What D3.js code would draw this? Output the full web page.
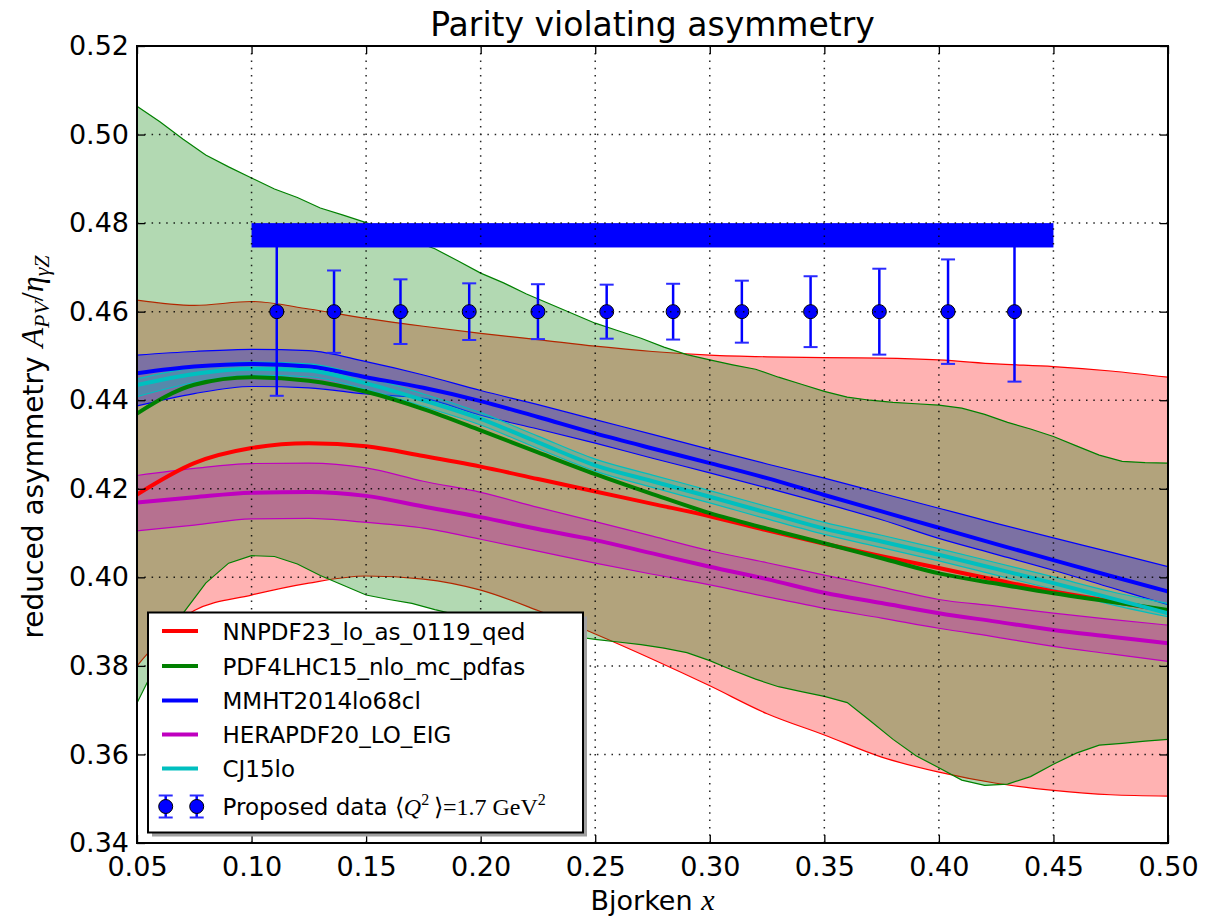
<!DOCTYPE html>
<html>
<head>
<meta charset="utf-8">
<script src="https://cdn.jsdelivr.net/npm/d3@7"></script>
<style>
  body { margin: 0; background: #fff; }
  svg { display: block; }
  text { font-family: "DejaVu Sans", sans-serif; fill: #000; }
</style>
</head>
<body>
<svg id="chart" width="1228" height="917"></svg>
<script>
// ---- PDF predictions on a common x grid ----
const xGrid = [0.05, 0.075, 0.10, 0.125, 0.15, 0.175, 0.20, 0.225, 0.25, 0.275,
               0.30, 0.325, 0.35, 0.375, 0.40, 0.425, 0.45, 0.475, 0.50];

const nnpdfMid = [0.4187, 0.4258, 0.4292, 0.4303, 0.4296, 0.4274, 0.4250, 0.4222, 0.4194, 0.4166,
                  0.4138, 0.4106, 0.4076, 0.4048, 0.4021, 0.3994, 0.3968, 0.3946, 0.3924];
const nnpdfHi  = [0.4626, 0.4614, 0.4623, 0.4606, 0.4585, 0.4567, 0.4551, 0.4537, 0.4522, 0.4510,
                  0.4502, 0.4498, 0.4496, 0.4495, 0.4491, 0.4482, 0.4476, 0.4466, 0.4452];
const nnpdfLo  = [0.3800, 0.3925, 0.3960, 0.3987, 0.4003, 0.3996, 0.3971, 0.3925, 0.3872, 0.3815,
                  0.3755, 0.3692, 0.3644, 0.3594, 0.3560, 0.3535, 0.3519, 0.3509, 0.3506];

const pdf4lhcMid = [0.4370, 0.4435, 0.4452, 0.4444, 0.4419, 0.4380, 0.4332, 0.4282, 0.4233, 0.4188,
                    0.4145, 0.4110, 0.4077, 0.4043, 0.4009, 0.3986, 0.3964, 0.3945, 0.3926];

const mmhtMid = [0.4461, 0.4476, 0.4482, 0.4476, 0.4452, 0.4428, 0.4398, 0.4362, 0.4325, 0.4291,
                 0.4258, 0.4224, 0.4186, 0.4149, 0.4112, 0.4075, 0.4039, 0.4003, 0.3968];
const mmhtHi  = [0.4502, 0.4510, 0.4515, 0.4512, 0.4487, 0.4457, 0.4422, 0.4390, 0.4356, 0.4323,
                 0.4289, 0.4256, 0.4224, 0.4190, 0.4156, 0.4122, 0.4089, 0.4057, 0.4024];
const mmhtLo  = [0.4387, 0.4415, 0.4431, 0.4428, 0.4414, 0.4404, 0.4366, 0.4335, 0.4303, 0.4269,
                 0.4236, 0.4202, 0.4167, 0.4130, 0.4088, 0.4052, 0.4016, 0.3977, 0.3938];

const heraMid = [0.4169, 0.4181, 0.4191, 0.4193, 0.4184, 0.4160, 0.4136, 0.4109, 0.4084, 0.4054,
                 0.4024, 0.3996, 0.3965, 0.3942, 0.3919, 0.3900, 0.3881, 0.3866, 0.3851];
const heraHi  = [0.4230, 0.4246, 0.4257, 0.4258, 0.4247, 0.4217, 0.4192, 0.4158, 0.4126, 0.4093,
                 0.4060, 0.4033, 0.4005, 0.3978, 0.3950, 0.3935, 0.3919, 0.3905, 0.3892];
const heraLo  = [0.4105, 0.4118, 0.4132, 0.4133, 0.4124, 0.4111, 0.4086, 0.4059, 0.4032, 0.4007,
                 0.3983, 0.3956, 0.3930, 0.3908, 0.3885, 0.3865, 0.3844, 0.3827, 0.3810];

const cj15Mid = [0.4434, 0.4459, 0.4471, 0.4467, 0.4438, 0.4400, 0.4358, 0.4305, 0.4253, 0.4217,
                 0.4182, 0.4146, 0.4110, 0.4081, 0.4051, 0.4019, 0.3987, 0.3953, 0.3919];
const cj15Hi  = [0.4448, 0.4474, 0.4486, 0.4482, 0.4453, 0.4414, 0.4372, 0.4319, 0.4267, 0.4231,
                 0.4196, 0.4160, 0.4124, 0.4095, 0.4065, 0.4033, 0.4001, 0.3968, 0.3941];
const cj15Lo  = [0.4408, 0.4440, 0.4456, 0.4453, 0.4424, 0.4386, 0.4344, 0.4291, 0.4240, 0.4203,
                 0.4168, 0.4132, 0.4097, 0.4067, 0.4037, 0.4005, 0.3973, 0.3939, 0.3911];

// PDF4LHC15 uncertainty band, tabulated in steps of 0.01
const pdf4lhcBandX = [0.05, 0.06, 0.07, 0.08, 0.09, 0.10, 0.11, 0.12, 0.13, 0.14,
                      0.15, 0.16, 0.17, 0.18, 0.19, 0.20, 0.21, 0.22, 0.23, 0.24,
                      0.25, 0.26, 0.27, 0.28, 0.29, 0.30, 0.31, 0.32, 0.33, 0.34,
                      0.35, 0.36, 0.37, 0.38, 0.39, 0.40, 0.41, 0.42, 0.43, 0.44,
                      0.45, 0.46, 0.47, 0.48, 0.49, 0.50];
const pdf4lhcHi = [0.5064, 0.5029, 0.4990, 0.4954, 0.4927, 0.4902, 0.4877, 0.4858, 0.4834, 0.4818,
                   0.4801, 0.4781, 0.4761, 0.4742, 0.4715, 0.4687, 0.4665, 0.4640, 0.4618, 0.4596,
                   0.4574, 0.4557, 0.4540, 0.4520, 0.4503, 0.4491, 0.4480, 0.4470, 0.4452, 0.4436,
                   0.4420, 0.4407, 0.4400, 0.4395, 0.4392, 0.4389, 0.4382, 0.4368, 0.4350, 0.4335,
                   0.4318, 0.4297, 0.4276, 0.4262, 0.4259, 0.4258];
const pdf4lhcLo = [0.3716, 0.3820, 0.3918, 0.3987, 0.4032, 0.4049, 0.4047, 0.4030, 0.4004, 0.3982,
                   0.3960, 0.3950, 0.3941, 0.3927, 0.3915, 0.3905, 0.3895, 0.3885, 0.3876, 0.3867,
                   0.3860, 0.3854, 0.3848, 0.3840, 0.3830, 0.3812, 0.3790, 0.3770, 0.3753, 0.3742,
                   0.3731, 0.3717, 0.3676, 0.3634, 0.3597, 0.3570, 0.3542, 0.3530, 0.3533, 0.3550,
                   0.3578, 0.3603, 0.3621, 0.3625, 0.3630, 0.3634];

// ---- Proposed measurement ----
const dataX   = [0.111, 0.136, 0.165, 0.195, 0.225, 0.255, 0.284, 0.314, 0.344, 0.374, 0.404, 0.433];
const dataY   = [0.46, 0.46, 0.46, 0.46, 0.46, 0.46, 0.46, 0.46, 0.46, 0.46, 0.46, 0.46];
const dataErr = [0.0190, 0.0093, 0.0073, 0.0064, 0.0062, 0.0061, 0.0063, 0.0070, 0.0080, 0.0097, 0.0118, 0.0158];

// systematic band of the proposed measurement
const systX  = [0.10, 0.45];
const systLo = 0.4745;
const systHi = 0.48;

// ---- axes ----
const xTicks = [0.05, 0.10, 0.15, 0.20, 0.25, 0.30, 0.35, 0.40, 0.45, 0.50];
const yTicks = [0.34, 0.36, 0.38, 0.40, 0.42, 0.44, 0.46, 0.48, 0.50, 0.52];
const xTickLabels = ["0.05", "0.10", "0.15", "0.20", "0.25", "0.30", "0.35", "0.40", "0.45", "0.50"];
const yTickLabels = ["0.34", "0.36", "0.38", "0.40", "0.42", "0.44", "0.46", "0.48", "0.50", "0.52"];

const seriesNames = ["NNPDF23_lo_as_0119_qed", "PDF4LHC15_nlo_mc_pdfas", "MMHT2014lo68cl",
                     "HERAPDF20_LO_EIG", "CJ15lo"];
const seriesColors = ["#ff0000", "#008000", "#0000ff", "#bf00bf", "#00bfbf"];

// ---------------------------------------------------------------
const svg = d3.select("#chart");
const plot = { left: 137, right: 1168, top: 46, bottom: 843 };
const x = d3.scaleLinear().domain([0.05, 0.50]).range([plot.left, plot.right]);
const y = d3.scaleLinear().domain([0.34, 0.52]).range([plot.bottom, plot.top]);
const serif = '"Liberation Serif", serif';

svg.append("defs").append("clipPath").attr("id", "plotClip")
  .append("rect").attr("x", plot.left).attr("y", plot.top)
  .attr("width", plot.right - plot.left).attr("height", plot.bottom - plot.top);

const g = svg.append("g").attr("clip-path", "url(#plotClip)");

const zipBand = (xs, lo, hi) => xs.map((v, i) => ({ x: v, lo: lo[i], hi: hi[i] }));
const zipLine = (xs, ys) => xs.map((v, i) => ({ x: v, y: ys[i] }));

const bands = [
  { data: zipBand(xGrid, nnpdfLo, nnpdfHi), color: seriesColors[0], curve: d3.curveMonotoneX },
  { data: zipBand(pdf4lhcBandX, pdf4lhcLo, pdf4lhcHi), color: seriesColors[1], curve: d3.curveLinear },
  { data: zipBand(xGrid, mmhtLo, mmhtHi), color: seriesColors[2], curve: d3.curveMonotoneX },
  { data: zipBand(xGrid, heraLo, heraHi), color: seriesColors[3], curve: d3.curveMonotoneX },
  { data: zipBand(xGrid, cj15Lo, cj15Hi), color: seriesColors[4], curve: d3.curveMonotoneX }
];
const mids = [
  { data: zipLine(xGrid, nnpdfMid), color: seriesColors[0] },
  { data: zipLine(xGrid, pdf4lhcMid), color: seriesColors[1] },
  { data: zipLine(xGrid, mmhtMid), color: seriesColors[2] },
  { data: zipLine(xGrid, heraMid), color: seriesColors[3] },
  { data: zipLine(xGrid, cj15Mid), color: seriesColors[4] }
];

// uncertainty bands: translucent fill with thin edges
bands.forEach(b => {
  const area = d3.area().x(d => x(d.x)).y0(d => y(d.lo)).y1(d => y(d.hi)).curve(b.curve);
  const edgeLo = d3.line().x(d => x(d.x)).y(d => y(d.lo)).curve(b.curve);
  const edgeHi = d3.line().x(d => x(d.x)).y(d => y(d.hi)).curve(b.curve);
  g.append("path").attr("d", area(b.data)).attr("fill", b.color).attr("fill-opacity", 0.3);
  g.append("path").attr("d", edgeLo(b.data)).attr("fill", "none").attr("stroke", b.color).attr("stroke-width", 1.2);
  g.append("path").attr("d", edgeHi(b.data)).attr("fill", "none").attr("stroke", b.color).attr("stroke-width", 1.2);
});

// central values
const midLine = d3.line().x(d => x(d.x)).y(d => y(d.y)).curve(d3.curveMonotoneX);
mids.forEach(m => {
  g.append("path").attr("d", midLine(m.data)).attr("fill", "none")
    .attr("stroke", m.color).attr("stroke-width", 4);
});

// proposed data with statistical error bars
const pts = dataX.map((v, i) => ({ x: v, y: dataY[i], e: dataErr[i] }));
const capHalf = 7;
const eb = g.append("g");
pts.forEach(p => {
  eb.append("line").attr("x1", x(p.x)).attr("x2", x(p.x))
    .attr("y1", y(p.y - p.e)).attr("y2", y(p.y + p.e))
    .attr("stroke", "#0000ff").attr("stroke-width", 2.5);
  [p.y - p.e, p.y + p.e].forEach(v => {
    eb.append("line").attr("x1", x(p.x) - capHalf).attr("x2", x(p.x) + capHalf)
      .attr("y1", y(v)).attr("y2", y(v))
      .attr("stroke", "#2a2aff").attr("stroke-width", 2);
  });
});

// systematic band
g.append("rect")
  .attr("x", x(systX[0])).attr("width", x(systX[1]) - x(systX[0]))
  .attr("y", y(systHi)).attr("height", y(systLo) - y(systHi))
  .attr("fill", "#0000ff");

// markers
g.selectAll("circle.pt").data(pts).join("circle").attr("class", "pt")
  .attr("cx", d => x(d.x)).attr("cy", d => y(d.y)).attr("r", 7)
  .attr("fill", "#0000ff").attr("stroke", "#000").attr("stroke-width", 1);

// dotted grid on top
const grid = svg.append("g").attr("stroke", "#000").attr("stroke-width", 1.5)
  .attr("stroke-dasharray", "1.5,5.8").attr("opacity", 0.85);
xTicks.forEach(t => grid.append("line").attr("x1", x(t)).attr("x2", x(t))
  .attr("y1", plot.bottom).attr("y2", plot.top));
yTicks.forEach(t => grid.append("line").attr("x1", plot.left).attr("x2", plot.right)
  .attr("y1", y(t)).attr("y2", y(t)));

// axes with inward ticks on all four sides
const fmtX = d => xTickLabels[xTicks.indexOf(d)];
const fmtY = d => yTickLabels[yTicks.indexOf(d)];
const axB = svg.append("g").attr("transform", `translate(0,${plot.bottom})`)
  .call(d3.axisBottom(x).tickValues(xTicks).tickFormat(fmtX).tickSizeInner(-8).tickSizeOuter(0).tickPadding(14));
const axL = svg.append("g").attr("transform", `translate(${plot.left},0)`)
  .call(d3.axisLeft(y).tickValues(yTicks).tickFormat(fmtY).tickSizeInner(-8).tickSizeOuter(0).tickPadding(8));
const axT = svg.append("g").attr("transform", `translate(0,${plot.top})`)
  .call(d3.axisTop(x).tickValues(xTicks).tickFormat("").tickSizeInner(-8).tickSizeOuter(0));
const axR = svg.append("g").attr("transform", `translate(${plot.right},0)`)
  .call(d3.axisRight(y).tickValues(yTicks).tickFormat("").tickSizeInner(-8).tickSizeOuter(0));
[axB, axL, axT, axR].forEach(a => {
  a.select(".domain").remove();
  a.selectAll(".tick line").attr("stroke", "#000").attr("stroke-width", 1.3);
  a.selectAll(".tick text").style("font-family", '"DejaVu Sans", sans-serif').style("font-size", "27px");
});

// frame
svg.append("rect").attr("x", plot.left).attr("y", plot.top)
  .attr("width", plot.right - plot.left).attr("height", plot.bottom - plot.top)
  .attr("fill", "none").attr("stroke", "#000").attr("stroke-width", 2);

// title and axis labels
svg.append("text").attr("x", (plot.left + plot.right) / 2).attr("y", 36)
  .attr("text-anchor", "middle").style("font-size", "33px").text("Parity violating asymmetry");

const xl = svg.append("text").attr("x", (plot.left + plot.right) / 2).attr("y", 910)
  .attr("text-anchor", "middle").style("font-size", "27px");
xl.append("tspan").text("Bjorken ");
xl.append("tspan").style("font-family", serif).style("font-style", "italic").style("font-size", "30px").text("x");

const yl = svg.append("text").attr("transform", "translate(43,447) rotate(-90)")
  .attr("text-anchor", "middle").style("font-size", "28px");
yl.append("tspan").text("reduced asymmetry  ");
const mathY = t => yl.append("tspan").style("font-family", serif).style("font-style", "italic").text(t);
mathY("A").style("font-size", "32px");
mathY("PV").style("font-size", "22px").attr("dy", 6);
mathY("/").style("font-size", "32px").style("font-style", "normal").attr("dy", -6);
mathY("\u03B7").style("font-size", "32px");
mathY("\u03B3Z").style("font-size", "22px").attr("dy", 6);

// legend
const leg = svg.append("g");
const lg = { x: 148, y: 612.5, w: 435, h: 220 };
leg.append("rect").attr("x", lg.x + 4).attr("y", lg.y + 4).attr("width", lg.w).attr("height", lg.h)
  .attr("fill", "#a0a0a0");
leg.append("rect").attr("x", lg.x).attr("y", lg.y).attr("width", lg.w).attr("height", lg.h)
  .attr("fill", "#fff").attr("stroke", "#000").attr("stroke-width", 2);
const rowY = [631, 666, 700.5, 734.5, 768.5, 806.5];
seriesNames.forEach((name, i) => {
  leg.append("line").attr("x1", 162).attr("x2", 198).attr("y1", rowY[i]).attr("y2", rowY[i])
    .attr("stroke", seriesColors[i]).attr("stroke-width", 4);
  leg.append("text").attr("x", 222.5).attr("y", rowY[i] + 8.5).style("font-size", "23px").text(name);
});
// legend entry for the data
const ly = rowY[5];
[165.7, 196.7].forEach(cx => {
  leg.append("line").attr("x1", cx).attr("x2", cx).attr("y1", ly - 11).attr("y2", ly + 11)
    .attr("stroke", "#0000ff").attr("stroke-width", 2.5);
  [ly - 11, ly + 11].forEach(v => leg.append("line").attr("x1", cx - 7).attr("x2", cx + 7)
    .attr("y1", v).attr("y2", v).attr("stroke", "#2a2aff").attr("stroke-width", 2));
  leg.append("circle").attr("cx", cx).attr("cy", ly).attr("r", 7)
    .attr("fill", "#0000ff").attr("stroke", "#000").attr("stroke-width", 1);
});
const lt = leg.append("text").attr("x", 222.5).attr("y", ly + 8.5).style("font-size", "23px");
lt.append("tspan").text("Proposed data ");
lt.append("tspan").style("font-family", serif).style("font-size", "24px").text("\u27E8");
lt.append("tspan").style("font-family", serif).style("font-style", "italic").style("font-size", "24px").text("Q");
lt.append("tspan").style("font-family", serif).style("font-size", "16px").attr("dy", -10).text("2");
lt.append("tspan").style("font-family", serif).style("font-size", "24px").attr("dy", 10).text("\u2009\u27E9=1.7 GeV");
lt.append("tspan").style("font-family", serif).style("font-size", "16px").attr("dy", -10).text("2");
</script>
</body>
</html>
